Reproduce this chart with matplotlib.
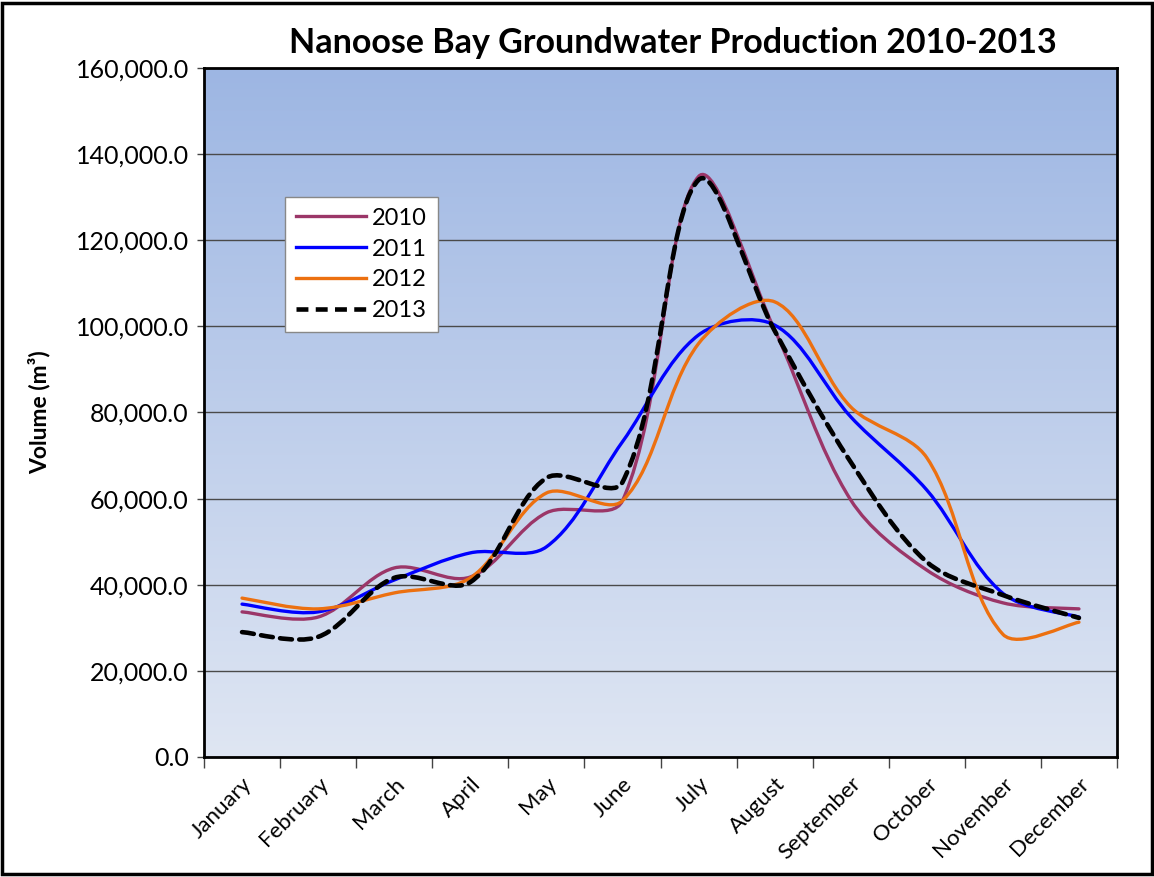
import numpy as np
import matplotlib
matplotlib.use("Agg")
import matplotlib.pyplot as plt
from matplotlib.path import Path
from matplotlib.patches import PathPatch, Rectangle
from matplotlib.lines import Line2D
from matplotlib.colors import LinearSegmentedColormap
from matplotlib.ticker import FuncFormatter

plt.rcParams["font.family"] = ["Lato", "DejaVu Sans"]

months = ["January", "February", "March", "April", "May", "June",
          "July", "August", "September", "October", "November", "December"]

vol_2010 = [33700, 32500, 43900, 41800, 56700, 59500, 134800, 99200, 59700, 43400, 35800, 34400]
vol_2011 = [35500, 33700, 41100, 47400, 48800, 73200, 98000, 100300, 79000, 62000, 38000, 32500]
vol_2012 = [36900, 34400, 38100, 41600, 61300, 59500, 96000, 105700, 81300, 69500, 28500, 31300]
vol_2013 = [29000, 27900, 41600, 40600, 64800, 63800, 134000, 99000, 68500, 45300, 37600, 32300]

series = [
    ("2010", vol_2010, "#9b3668", "-", 2.4),
    ("2011", vol_2011, "#0000ff", "-", 2.4),
    ("2012", vol_2012, "#ec7010", "-", 2.4),
    ("2013", vol_2013, "black", (0, (2.6, 1.6)), 3.3),
]


def smooth_path(ax, xs, ys):
    # excel-like smoothing: bezier pieces, tangents weighted by segment length on screen
    data = np.column_stack([xs, ys]).astype(float)
    pts = ax.transData.transform(data)
    n = len(pts)
    verts = [pts[0]]
    codes = [Path.MOVETO]
    for i in range(n - 1):
        p0 = pts[max(i - 1, 0)]
        p1 = pts[i]
        p2 = pts[i + 1]
        p3 = pts[min(i + 2, n - 1)]
        d01 = np.hypot(*(p1 - p0))
        d12 = np.hypot(*(p2 - p1))
        d23 = np.hypot(*(p3 - p2))
        f1 = d12 / (d01 + d12) if d01 > 0 else 0.5
        f2 = d12 / (d12 + d23) if d23 > 0 else 0.5
        c1 = p1 + (p2 - p0) * f1 / 3.0
        c2 = p2 - (p3 - p1) * f2 / 3.0
        verts += [c1, c2, p2]
        codes += [Path.CURVE4] * 3
    verts = ax.transData.inverted().transform(np.array(verts))
    return Path(verts, codes)


fig = plt.figure(figsize=(11.54, 8.77), dpi=100)
ax = fig.add_axes([204 / 1154, 120 / 877, 913 / 1154, 689 / 877])

x = np.arange(len(months))

# gradient background
cmap = LinearSegmentedColormap.from_list("bg", ["#dfe6f3", "#9db6e3"])
grad = np.linspace(0, 1, 256).reshape(-1, 1)
ax.imshow(grad, cmap=cmap, aspect="auto", extent=[0, 1, 0, 1],
          transform=ax.transAxes, origin="lower", zorder=0)
ax.set_xlim(-0.5, len(months) - 0.5)
ax.set_ylim(0, 160000)

handles = []
for name, vals, color, ls, lw in series:
    patch = PathPatch(smooth_path(ax, x, vals), fill=False, edgecolor=color,
                      linestyle=ls, linewidth=lw, zorder=3, capstyle="round")
    ax.add_patch(patch)
    handles.append(Line2D([], [], color=color, linestyle=ls, linewidth=lw, label=name))

ax.set_yticks(np.arange(0, 160001, 20000))
ax.yaxis.set_major_formatter(FuncFormatter(lambda v, p: f"{v:,.1f}"))
ax.grid(axis="y", color="#4a4a4a", linewidth=1.0, zorder=1)
ax.set_axisbelow(True)

ax.set_xticks(np.arange(-0.5, len(months)), minor=False)
ax.set_xticklabels([])
ax.set_xticks(x, minor=True)
ax.set_xticklabels(months, minor=True, rotation=45, ha="right",
                   rotation_mode="anchor", fontsize=16)
ax.tick_params(axis="x", which="major", direction="out", length=8, width=1, color="#444444")
ax.tick_params(axis="x", which="minor", length=0, pad=12)
ax.tick_params(axis="y", direction="out", length=5, width=1, color="#444444",
               labelsize=18, pad=6)

for s in ax.spines.values():
    s.set_linewidth(2)
    s.set_color("black")

ax.set_ylabel("Volume (m³)", fontsize=16.5, fontweight="bold")
ax.yaxis.set_label_coords(-0.168, 0.5)

leg = ax.legend(handles=handles, loc="upper left", bbox_to_anchor=(0.0887, 0.8128),
                borderaxespad=0, fontsize=17, handlelength=3.0, handletextpad=0.25,
                labelspacing=0.42, fancybox=False, framealpha=1, edgecolor="#888888",
                borderpad=0.45)
leg.get_frame().set_linewidth(1)

fig.text(673 / 1154, 1 - 43 / 877, "Nanoose Bay Groundwater Production 2010-2013",
         ha="center", va="center", fontsize=24.5, fontweight="bold")

fig.patches.append(Rectangle((0.002, 0.003), 0.996, 0.994, transform=fig.transFigure,
                             fill=False, edgecolor="black", linewidth=2.5))

fig.savefig("out.png", dpi=100)
